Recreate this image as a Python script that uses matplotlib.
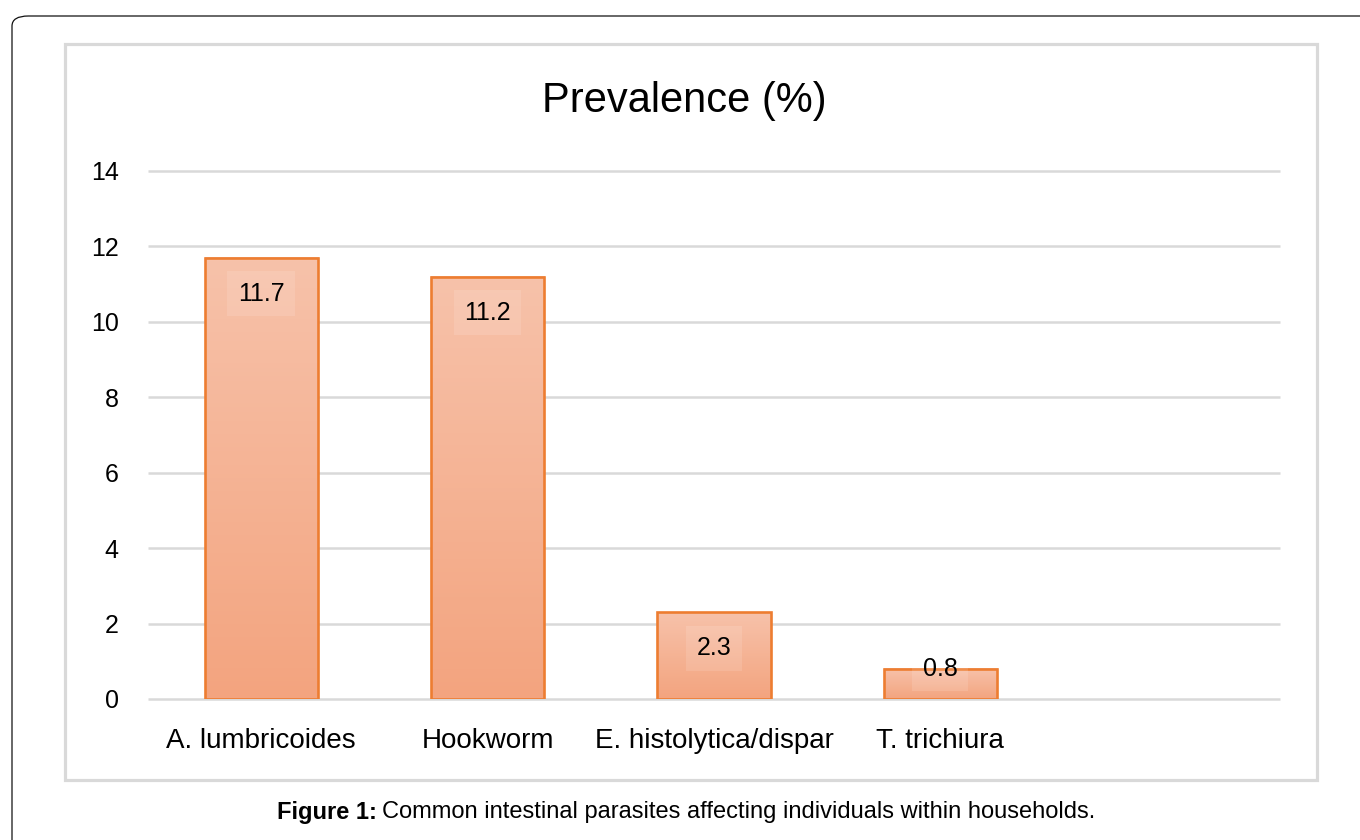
import numpy as np
import matplotlib
matplotlib.use('Agg')
import matplotlib.pyplot as plt
from matplotlib.patches import Rectangle, FancyBboxPatch
from matplotlib.colors import LinearSegmentedColormap

# dados do gráfico
categorias = ['A. lumbricoides', 'Hookworm', 'E. histolytica/dispar', 'T. trichiura', '']
prevalencia = [11.7, 11.2, 2.3, 0.8, None]
rotulos = ['11.7', '11.2', '2.3', '0.8', '']
yticks = [0, 2, 4, 6, 8, 10, 12, 14]

plt.rcParams['font.family'] = ['Liberation Sans', 'DejaVu Sans']

fig = plt.figure(figsize=(13.6, 8.4), dpi=100)
W, H = 1360, 840

# moldura externa arredondada (sai da figura à direita e embaixo)
moldura = FancyBboxPatch((12 / W, -0.2), 1.2, 1 - 16 / H + 0.2,
                         boxstyle='round,pad=0,rounding_size=0.012',
                         transform=fig.transFigure, facecolor='none',
                         edgecolor='#111111', linewidth=0.9, clip_on=False)
fig.patches.append(moldura)

# caixa do gráfico (cinza claro)
caixa = Rectangle((65 / W, 1 - 780 / H), (1317 - 65) / W, (780 - 44) / H,
                  transform=fig.transFigure, facecolor='none',
                  edgecolor='#d9d9d9', linewidth=2.3)
fig.patches.append(caixa)

ax = fig.add_axes([148 / W, 1 - 699 / H, (1280 - 148) / W, (699 - 171) / H])

x = np.arange(len(categorias))
cmap = LinearSegmentedColormap.from_list('grad', ['#F3A47F', '#F7C2AA'])
largura = 0.5

for xi, v in zip(x, prevalencia):
    if v is None:
        continue
    grad = np.linspace(0, 1, 100).reshape(-1, 1)
    ax.imshow(grad, cmap=cmap, origin='lower', aspect='auto',
              extent=(xi - largura / 2, xi + largura / 2, 0, v), zorder=3)
    ax.add_patch(Rectangle((xi - largura / 2, 0), largura, v, facecolor='none',
                           edgecolor='#ED7D31', linewidth=1.9, zorder=4))

ax.set_xlim(-0.5, len(categorias) - 0.5)
ax.set_ylim(0, 14)

# rótulos de dados (dentro do topo da barra)
px_por_unidade = (699 - 171) / 14
for xi, v, r in zip(x, prevalencia, rotulos):
    if v is None:
        continue
    desloc = -36 if v * px_por_unidade > 70 else 0
    ax.annotate(r, (xi, v), xytext=(0, desloc * 0.72), textcoords='offset points',
                ha='center', va='center', fontsize=18, color='black', zorder=6,
                bbox=dict(boxstyle='square,pad=0.42', facecolor='white',
                          alpha=0.12, edgecolor='none'))

ax.set_yticks(yticks)
ax.set_yticklabels([str(t) for t in yticks], fontsize=18)
ax.set_xticks(x)
ax.set_xticklabels(categorias, fontsize=20)
ax.tick_params(axis='both', length=0)
ax.tick_params(axis='y', pad=21)
ax.tick_params(axis='x', pad=21)
ax.grid(axis='y', color='#d9d9d9', linewidth=1.8, zorder=0)
for gl in ax.get_ygridlines():
    gl.set_clip_on(False)
    gl.set_solid_capstyle('butt')
ax.set_axisbelow(True)
for s in ax.spines.values():
    s.set_visible(False)

fig.text(684 / W, 1 - 101 / H, 'Prevalence (%)', ha='center', va='center', fontsize=30)

# legenda da figura
t1 = fig.text(277 / W, 1 - 812 / H, 'Figure 1:', ha='left', va='center',
              fontsize=17, fontweight='bold')
fig.canvas.draw()
bb = t1.get_window_extent(fig.canvas.get_renderer())
fig.text(bb.x1 / W + 5 / W, 1 - 812 / H,
         'Common intestinal parasites affecting individuals within households.',
         ha='left', va='center', fontsize=17)

fig.savefig('out.png', dpi=100)
